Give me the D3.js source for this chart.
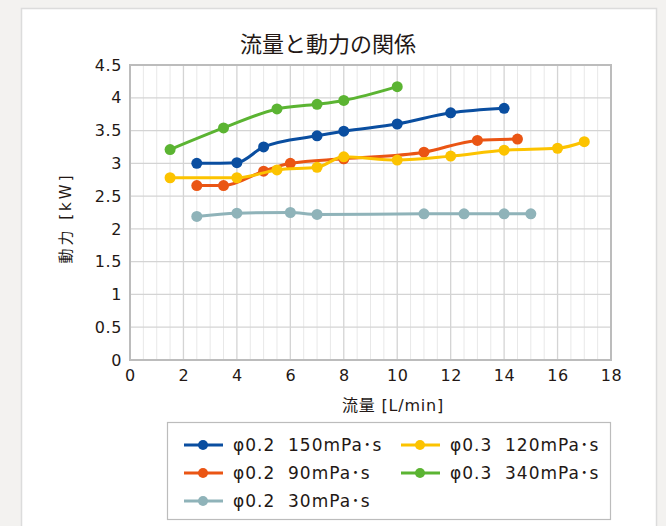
<!DOCTYPE html>
<html><head><meta charset="utf-8">
<script src="https://cdn.jsdelivr.net/npm/d3@7"></script>
<style>
html,body{margin:0;padding:0;background:#f3f2f0;}
svg{display:block;font-family:"DejaVu Sans","Noto Sans CJK JP",sans-serif;}
</style></head><body>
<svg id="c" width="666" height="526"></svg>
<script>
const title = "流量と動力の関係";
const xTitle = "流量 [L/min]";
const yTitle = "動力 [kW]";
const xTicks = [0,2,4,6,8,10,12,14,16,18];
const yTicks = [0,0.5,1,1.5,2,2.5,3,3.5,4,4.5];
const yTickLabels = ["0","0.5","1","1.5","2","2.5","3","3.5","4","4.5"];

const s150 = [[2.5,3.0],[4,3.01],[5,3.25],[7,3.42],[8,3.49],[10,3.6],[12,3.77],[14,3.84]];
const s90  = [[2.5,2.66],[3.5,2.66],[5,2.88],[6,3.0],[8,3.07],[11,3.17],[13,3.35],[14.5,3.37]];
const s30  = [[2.5,2.19],[4,2.24],[6,2.25],[7,2.22],[11,2.23],[12.5,2.23],[14,2.23],[15,2.23]];
const s120 = [[1.5,2.78],[4,2.78],[5.5,2.9],[7,2.94],[8,3.1],[10,3.05],[12,3.11],[14,3.2],[16,3.23],[17,3.33]];
const s340 = [[1.5,3.21],[3.5,3.54],[5.5,3.83],[7,3.9],[8,3.96],[10,4.17]];

const seriesNames = ["φ0.2  150mPa･s","φ0.2  90mPa･s","φ0.2  30mPa･s","φ0.3  120mPa･s","φ0.3  340mPa･s"];
const seriesData = [s150,s90,s30,s120,s340];
const seriesColors = ["#0a4ea0","#ea5514","#8fb3b9","#fcc300","#5bb432"];

const txt = "#231815";
const svg = d3.select("#c");
svg.append("rect").attr("x",21.5).attr("y",8.5).attr("width",635).attr("height",530)
  .attr("fill","#fff").attr("stroke","#dcdcdc").attr("stroke-width",1.5);

const L=130,R=611,T=65,B=360;
const x = d3.scaleLinear().domain([0,18]).range([L,R]);
const y = d3.scaleLinear().domain([0,4.5]).range([B,T]);

const g = svg.append("g");
g.selectAll(".mv").data(d3.range(0,18.01,0.5).filter(v=>v%2!==0)).enter().append("line")
  .attr("x1",d=>x(d)).attr("x2",d=>x(d)).attr("y1",T).attr("y2",B)
  .attr("stroke","#e8e8e8").attr("stroke-width",1);
g.selectAll(".Mv").data(xTicks).enter().append("line")
  .attr("x1",d=>x(d)).attr("x2",d=>x(d)).attr("y1",T).attr("y2",B)
  .attr("stroke","#d4d4d4").attr("stroke-width",1.3);
g.selectAll(".h").data(yTicks).enter().append("line")
  .attr("x1",L).attr("x2",R).attr("y1",d=>y(d)).attr("y2",d=>y(d))
  .attr("stroke","#d4d4d4").attr("stroke-width",1.3);
svg.append("rect").attr("x",L).attr("y",T).attr("width",R-L).attr("height",B-T)
  .attr("fill","none").attr("stroke","#bcbcbc").attr("stroke-width",2);

const xa = svg.append("g").attr("transform",`translate(0,${B})`)
  .call(d3.axisBottom(x).tickValues(xTicks).tickSize(0).tickPadding(10).tickFormat(d3.format("d")));
xa.select(".domain").remove();
xa.selectAll("text").attr("font-size",16).attr("fill",txt).attr("font-family","'DejaVu Sans',sans-serif").attr("letter-spacing",0.6);
const ya = svg.append("g").attr("transform",`translate(${L},0)`)
  .call(d3.axisLeft(y).tickValues(yTicks).tickSize(0).tickPadding(8).tickFormat((d,i)=>yTickLabels[i]));
ya.select(".domain").remove();
ya.selectAll("text").attr("font-size",16).attr("fill",txt).attr("font-family","'DejaVu Sans',sans-serif").attr("letter-spacing",0.6);

svg.append("text").attr("x",328).attr("y",52).attr("text-anchor","middle")
  .attr("font-family","'Noto Sans CJK JP',sans-serif")
  .attr("font-size",22).attr("fill",txt).text(title);
svg.append("text").attr("x",393).attr("y",411).attr("text-anchor","middle")
  .attr("font-size",16).attr("letter-spacing",0.8).attr("fill",txt).text(xTitle);
svg.append("text").attr("transform","translate(71,218) rotate(-90)").attr("text-anchor","middle")
  .attr("font-size",15).attr("letter-spacing",3).attr("fill",txt).text(yTitle);

const line = d3.line().x(d=>x(d[0])).y(d=>y(d[1])).curve(d3.curveMonotoneX);
const sg = svg.append("g");
seriesData.forEach((data,i)=>{
  sg.append("path").datum(data).attr("d",line).attr("fill","none")
    .attr("stroke",seriesColors[i]).attr("stroke-width",3);
  sg.selectAll(null).data(data).enter().append("circle")
    .attr("cx",d=>x(d[0])).attr("cy",d=>y(d[1])).attr("r",5.5).attr("fill",seriesColors[i]);
});

svg.append("rect").attr("x",167.5).attr("y",422.5).attr("width",443).attr("height",97)
  .attr("fill","#fff").attr("stroke","#bcbcbc").attr("stroke-width",1.2);
const legPos = [[184,445],[184,473],[184,501],[401,445],[401,473]];
seriesNames.forEach((n,i)=>{
  const [lx,ly]=legPos[i];
  svg.append("line").attr("x1",lx).attr("x2",lx+39).attr("y1",ly).attr("y2",ly)
    .attr("stroke",seriesColors[i]).attr("stroke-width",3);
  svg.append("circle").attr("cx",lx+19).attr("cy",ly).attr("r",5).attr("fill",seriesColors[i]);
  svg.append("text").attr("x",lx+49).attr("y",ly+6).attr("font-size",17).attr("letter-spacing",1.0).attr("fill",txt)
    .style("white-space","pre").text(n);
});
</script></body></html>
